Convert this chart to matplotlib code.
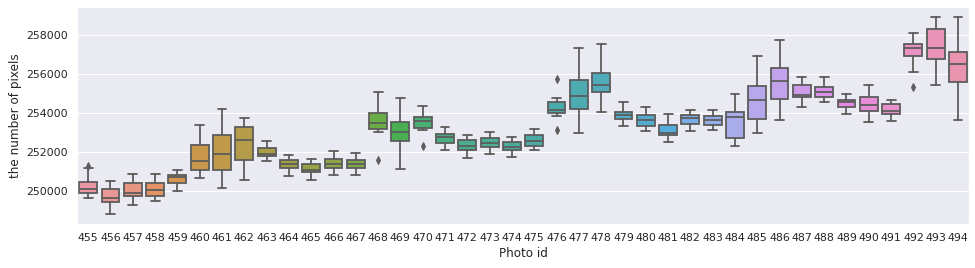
import matplotlib
matplotlib.use("Agg")
import matplotlib.pyplot as plt
import seaborn as sns

photo_ids = list(range(455, 495))

whis_lo = [249607, 248803, 249265, 249470, 249966, 250632, 250137, 250530, 251504, 250752,
           250530, 250803, 250803, 253009, 251111, 253094, 252068, 251675, 251880, 251727,
           252068, 253812, 252957, 254017, 253316, 253060, 252479, 253060, 253111, 252291,
           252957, 253624, 254291, 254547, 253915, 253504, 253573, 256085, 255402, 253624]
q1 = [249880, 249402, 249709, 249709, 250393, 251043, 251043, 251556, 251778, 251162,
      250957, 251162, 251162, 253162, 252547, 253214, 252444, 252085, 252222, 252085,
      252291, 254000, 254188, 255043, 253658, 253316, 252855, 253402, 253350, 252701,
      253658, 254701, 254821, 254803, 254291, 254086, 253915, 256906, 256735, 255573]
median = [250103, 249607, 249880, 250051, 250684, 251521, 251880, 252598, 251880, 251385,
          251077, 251350, 251385, 253487, 253009, 253556, 252752, 252291, 252462, 252239,
          252547, 254154, 254855, 255419, 253897, 253641, 252974, 253744, 253641, 253778,
          254650, 255624, 254889, 255060, 254547, 254393, 254068, 257299, 257299, 256513]
q3 = [250444, 250068, 250376, 250376, 250803, 252325, 252838, 253248, 252188, 251556,
      251350, 251607, 251556, 253966, 253504, 253761, 252889, 252581, 252701, 252479,
      252838, 254530, 255658, 256034, 254034, 253863, 253350, 253863, 253812, 254017,
      255350, 256273, 255402, 255299, 254650, 254786, 254427, 257521, 258273, 257094]
whis_hi = [251145, 250479, 250855, 250855, 251043, 253350, 254188, 253726, 252530, 251829,
           251607, 252034, 251915, 255060, 254735, 254325, 253248, 252838, 252991, 252752,
           253162, 254735, 257299, 257521, 254547, 254291, 253915, 254137, 254137, 254940,
           256889, 257709, 255812, 255812, 254940, 255402, 254650, 258068, 258906, 258906]
outliers = {455: [251265], 468: [251590], 470: [252273], 476: [255744, 253128], 492: [255333]}

sns.set_theme(style="darkgrid")

fig, ax = plt.subplots(figsize=(975 / 72, 268 / 72), dpi=72)
fig.subplots_adjust(left=0.079, right=0.994, top=0.973, bottom=0.165)

stats = []
for i, pid in enumerate(photo_ids):
    stats.append({"whislo": whis_lo[i], "q1": q1[i], "med": median[i], "q3": q3[i],
                  "whishi": whis_hi[i], "fliers": outliers.get(pid, [])})

colors = [sns.desaturate(c, 0.75) for c in sns.husl_palette(len(photo_ids), l=0.7)]
gray = "#5c5c5c"
lw = 1.8
parts = ax.bxp(stats, positions=range(len(photo_ids)), widths=0.8, patch_artist=True,
               boxprops=dict(edgecolor=gray, linewidth=lw),
               medianprops=dict(color=gray, linewidth=lw),
               whiskerprops=dict(color=gray, linewidth=lw),
               capprops=dict(color=gray, linewidth=lw),
               flierprops=dict(marker="d", markerfacecolor=gray, markeredgecolor=gray,
                               markersize=5))
for box, c in zip(parts["boxes"], colors):
    box.set_facecolor(c)

ax.set_xlim(-0.5, len(photo_ids) - 0.5)
ax.set_xticks(range(len(photo_ids)))
ax.set_xticklabels([str(p) for p in photo_ids])
ax.set_xlabel("Photo id")
ax.set_ylabel("the number of pixels")
ax.grid(axis="x", visible=False)

plt.savefig("out.png", dpi=72)
